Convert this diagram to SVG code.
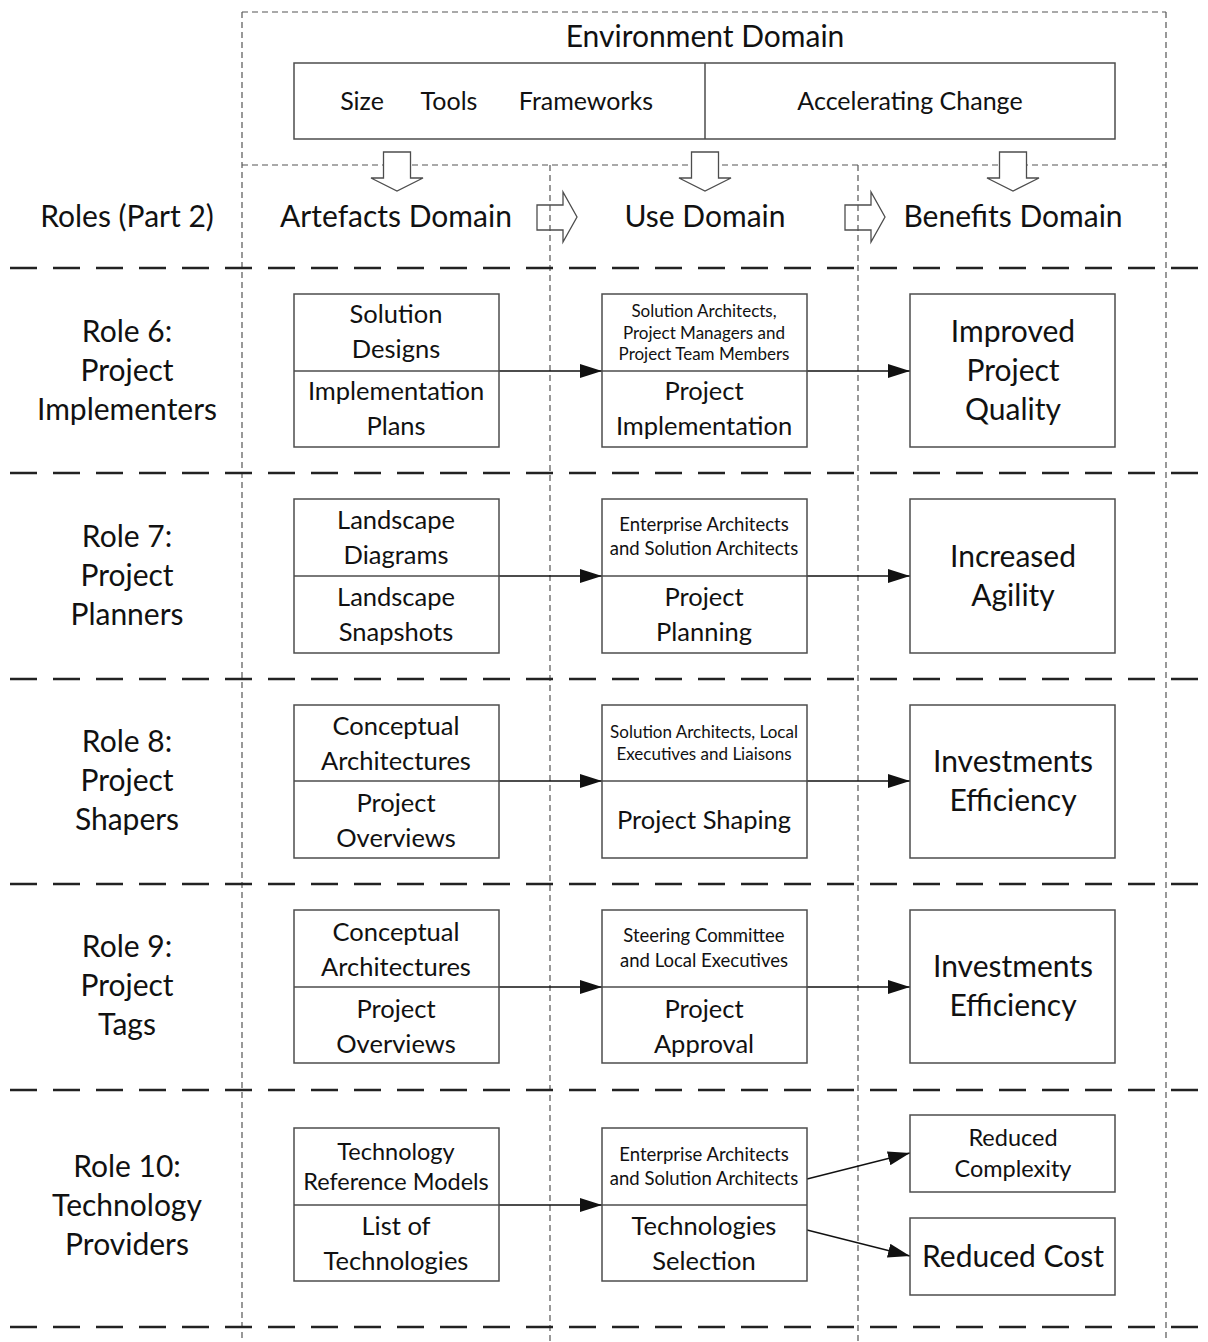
<svg xmlns="http://www.w3.org/2000/svg" width="1208" height="1342" viewBox="0 0 1208 1342">
  <style>
    text { font-family: Lato, "Open Sans", "Liberation Sans", sans-serif; fill: #111; text-anchor: middle; }
    .h { font-size: 30px; }
    .env { font-size: 25px; }
    .role { font-size: 30px; }
    .b { font-size: 25.5px; }
    .big { font-size: 30px; }
    .s { font-size: 17px; }
    .m { font-size: 18.5px; }
    .t { font-size: 23.5px; }
    .box { fill: #fff; stroke: #4d4d4d; stroke-width: 1.5; }
    .div { stroke: #4d4d4d; stroke-width: 1.5; }
    .fine { fill: none; stroke: #555; stroke-width: 1.2; stroke-dasharray: 6 4; }
    .row { stroke: #222; stroke-width: 2.5; stroke-dasharray: 27 16; }
    .hollow { fill: #fff; stroke: #4d4d4d; stroke-width: 1.3; }
    .hollow-open { fill: none; stroke: #4d4d4d; stroke-width: 1.3; }
    .link { stroke: #111; stroke-width: 1.3; fill: none; marker-end: url(#tri); }
  </style>
  <defs>
    <marker id="tri" viewBox="0 0 22 14" refX="22" refY="7" markerWidth="22" markerHeight="14" markerUnits="userSpaceOnUse" orient="auto">
      <path d="M0,0 L22,7 L0,14 Z" fill="#111"/>
    </marker>
  </defs>
  <rect width="1208" height="1342" fill="#fff"/>

  <!-- domain frame -->
  <g id="frame">
    <path class="fine" d="M242,12 H1166 M242,165 H1166 M242,12 V1342 M1166,12 V1342 M550,165 V1342 M858,165 V1342"/>
    <g class="row-lines">
      <line class="row" x1="10" y1="268" x2="1208" y2="268"/>
      <line class="row" x1="10" y1="473" x2="1208" y2="473"/>
      <line class="row" x1="10" y1="679" x2="1208" y2="679"/>
      <line class="row" x1="10" y1="884" x2="1208" y2="884"/>
      <line class="row" x1="10" y1="1090" x2="1208" y2="1090"/>
      <line class="row" x1="10" y1="1327" x2="1208" y2="1327"/>
    </g>
  </g>

  <!-- environment domain -->
  <g id="environment">
    <text class="h" x="705" y="47">Environment Domain</text>
    <rect class="box" x="294" y="63" width="821" height="76"/>
    <line class="div" x1="705" y1="63" x2="705" y2="139"/>
    <text class="env" x="362" y="110">Size</text>
    <text class="env" x="449" y="110">Tools</text>
    <text class="env" x="586" y="110">Frameworks</text>
    <text class="env" x="910" y="110">Accelerating Change</text>
  </g>

  <!-- flow arrows between domains -->
  <g id="domain-arrows">
    <path class="hollow" d="M383.5,152 H410.5 V178 H423 L397,191 L371,178 H383.5 Z"/>
    <path class="hollow" d="M691.5,152 H718.5 V178 H731 L705,191 L679,178 H691.5 Z"/>
    <path class="hollow" d="M999.5,152 H1026.5 V178 H1039 L1013,191 L987,178 H999.5 Z"/>
    <path class="hollow-open" d="M537,205 H563 V192 L577,217 L563,242 V230 H537 Z"/>
    <path class="hollow-open" d="M845,205 H871 V192 L885,217 L871,242 V230 H845 Z"/>
  </g>

  <!-- column headings -->
  <g id="headings">
    <text class="h" x="127" y="227">Roles (Part 2)</text>
    <text class="h" x="396" y="227">Artefacts Domain</text>
    <text class="h" x="705" y="227">Use Domain</text>
    <text class="h" x="1013" y="227">Benefits Domain</text>
  </g>

  <!-- connectors -->
  <g id="connectors">
    <line class="link" x1="499" y1="371" x2="602" y2="371"/>
    <line class="link" x1="807" y1="371" x2="910" y2="371"/>
    <line class="link" x1="499" y1="576" x2="602" y2="576"/>
    <line class="link" x1="807" y1="576" x2="910" y2="576"/>
    <line class="link" x1="499" y1="781" x2="602" y2="781"/>
    <line class="link" x1="807" y1="781" x2="910" y2="781"/>
    <line class="link" x1="499" y1="987" x2="602" y2="987"/>
    <line class="link" x1="807" y1="987" x2="910" y2="987"/>
    <line class="link" x1="499" y1="1205" x2="602" y2="1205"/>
    <line class="link" x1="807" y1="1179" x2="910" y2="1153"/>
    <line class="link" x1="807" y1="1230" x2="910" y2="1256"/>
  </g>

  <!-- Role 6 -->
  <g id="role6">
    <text class="role" x="127" y="342">Role 6:</text>
    <text class="role" x="127" y="381">Project</text>
    <text class="role" x="127" y="420">Implementers</text>
  </g>
  <g id="artefacts6">
    <rect class="box" x="294" y="294" width="205" height="153"/>
    <line class="div" x1="294" y1="371" x2="499" y2="371"/>
    <text class="b" x="396" y="323">Solution</text>
    <text class="b" x="396" y="358">Designs</text>
    <text class="b" x="396" y="400">Implementation</text>
    <text class="b" x="396" y="435">Plans</text>
  </g>
  <g id="use6">
    <rect class="box" x="602" y="294" width="205" height="153"/>
    <line class="div" x1="602" y1="371" x2="807" y2="371"/>
    <text class="s" x="704" y="317">Solution Architects,</text>
    <text class="s" x="704" y="339">Project Managers and</text>
    <text class="s" x="704" y="360">Project Team Members</text>
    <text class="b" x="704" y="400">Project</text>
    <text class="b" x="704" y="435">Implementation</text>
  </g>
  <g id="benefit6">
    <rect class="box" x="910" y="294" width="205" height="153"/>
    <text class="big" x="1013" y="342">Improved</text>
    <text class="big" x="1013" y="381">Project</text>
    <text class="big" x="1013" y="420">Quality</text>
  </g>

  <!-- Role 7 -->
  <g id="role7">
    <text class="role" x="127" y="547">Role 7:</text>
    <text class="role" x="127" y="586">Project</text>
    <text class="role" x="127" y="625">Planners</text>
  </g>
  <g id="artefacts7">
    <rect class="box" x="294" y="499" width="205" height="154"/>
    <line class="div" x1="294" y1="576" x2="499" y2="576"/>
    <text class="b" x="396" y="529">Landscape</text>
    <text class="b" x="396" y="564">Diagrams</text>
    <text class="b" x="396" y="606">Landscape</text>
    <text class="b" x="396" y="641">Snapshots</text>
  </g>
  <g id="use7">
    <rect class="box" x="602" y="499" width="205" height="154"/>
    <line class="div" x1="602" y1="576" x2="807" y2="576"/>
    <text class="m" x="704" y="531">Enterprise Architects</text>
    <text class="m" x="704" y="555">and Solution Architects</text>
    <text class="b" x="704" y="606">Project</text>
    <text class="b" x="704" y="641">Planning</text>
  </g>
  <g id="benefit7">
    <rect class="box" x="910" y="499" width="205" height="154"/>
    <text class="big" x="1013" y="567">Increased</text>
    <text class="big" x="1013" y="606">Agility</text>
  </g>

  <!-- Role 8 -->
  <g id="role8">
    <text class="role" x="127" y="752">Role 8:</text>
    <text class="role" x="127" y="791">Project</text>
    <text class="role" x="127" y="830">Shapers</text>
  </g>
  <g id="artefacts8">
    <rect class="box" x="294" y="705" width="205" height="153"/>
    <line class="div" x1="294" y1="781" x2="499" y2="781"/>
    <text class="b" x="396" y="735">Conceptual</text>
    <text class="b" x="396" y="770">Architectures</text>
    <text class="b" x="396" y="812">Project</text>
    <text class="b" x="396" y="847">Overviews</text>
  </g>
  <g id="use8">
    <rect class="box" x="602" y="705" width="205" height="153"/>
    <line class="div" x1="602" y1="781" x2="807" y2="781"/>
    <text class="s" x="704" y="738">Solution Architects, Local</text>
    <text class="s" x="704" y="760">Executives and Liaisons</text>
    <text class="b" x="704" y="829">Project Shaping</text>
  </g>
  <g id="benefit8">
    <rect class="box" x="910" y="705" width="205" height="153"/>
    <text class="big" x="1013" y="772">Investments</text>
    <text class="big" x="1013" y="811">Efficiency</text>
  </g>

  <!-- Role 9 -->
  <g id="role9">
    <text class="role" x="127" y="957">Role 9:</text>
    <text class="role" x="127" y="996">Project</text>
    <text class="role" x="127" y="1035">Tags</text>
  </g>
  <g id="artefacts9">
    <rect class="box" x="294" y="910" width="205" height="153"/>
    <line class="div" x1="294" y1="987" x2="499" y2="987"/>
    <text class="b" x="396" y="941">Conceptual</text>
    <text class="b" x="396" y="976">Architectures</text>
    <text class="b" x="396" y="1018">Project</text>
    <text class="b" x="396" y="1053">Overviews</text>
  </g>
  <g id="use9">
    <rect class="box" x="602" y="910" width="205" height="153"/>
    <line class="div" x1="602" y1="987" x2="807" y2="987"/>
    <text class="m" x="704" y="942">Steering Committee</text>
    <text class="m" x="704" y="967">and Local Executives</text>
    <text class="b" x="704" y="1018">Project</text>
    <text class="b" x="704" y="1053">Approval</text>
  </g>
  <g id="benefit9">
    <rect class="box" x="910" y="910" width="205" height="153"/>
    <text class="big" x="1013" y="977">Investments</text>
    <text class="big" x="1013" y="1016">Efficiency</text>
  </g>

  <!-- Role 10 -->
  <g id="role10">
    <text class="role" x="127" y="1177">Role 10:</text>
    <text class="role" x="127" y="1216">Technology</text>
    <text class="role" x="127" y="1255">Providers</text>
  </g>
  <g id="artefacts10">
    <rect class="box" x="294" y="1128" width="205" height="153"/>
    <line class="div" x1="294" y1="1205" x2="499" y2="1205"/>
    <text class="t" x="396" y="1160">Technology</text>
    <text class="t" x="396" y="1190">Reference Models</text>
    <text class="b" x="396" y="1235">List of</text>
    <text class="b" x="396" y="1270">Technologies</text>
  </g>
  <g id="use10">
    <rect class="box" x="602" y="1128" width="205" height="153"/>
    <line class="div" x1="602" y1="1205" x2="807" y2="1205"/>
    <text class="m" x="704" y="1161">Enterprise Architects</text>
    <text class="m" x="704" y="1185">and Solution Architects</text>
    <text class="b" x="704" y="1235">Technologies</text>
    <text class="b" x="704" y="1270">Selection</text>
  </g>
  <g id="benefit10a">
    <rect class="box" x="910" y="1115" width="205" height="77"/>
    <text class="t" x="1013" y="1146">Reduced</text>
    <text class="t" x="1013" y="1177">Complexity</text>
  </g>
  <g id="benefit10b">
    <rect class="box" x="910" y="1218" width="205" height="77"/>
    <text class="big" x="1013" y="1267">Reduced Cost</text>
  </g>
</svg>
